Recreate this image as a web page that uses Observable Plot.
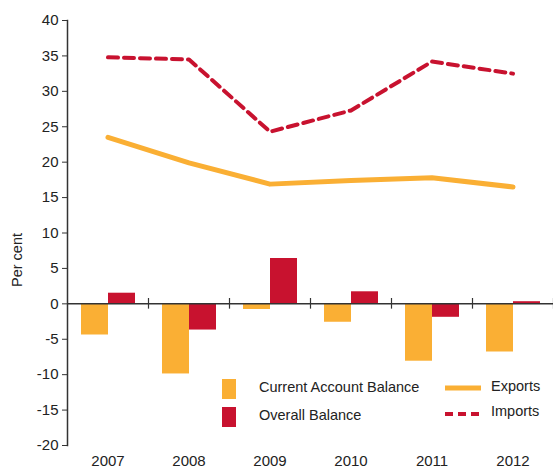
<!DOCTYPE html>
<html>
<head>
<meta charset="utf-8">
<script src="https://cdn.jsdelivr.net/npm/d3@7"></script>
<script src="https://cdn.jsdelivr.net/npm/@observablehq/plot@0.6"></script>
<style>
  html, body { margin: 0; padding: 0; background: #fff; }
  #wrap { position: relative; width: 553px; height: 469px; font-family: "Liberation Sans", Arial, sans-serif; color: #222; }
  #wrap svg { position: absolute; left: 0; top: 0; }
  .lg { position: absolute; font-size: 14.5px; white-space: nowrap; }
  .sw { position: absolute; }
  #ylab { position: absolute; left: 17px; top: 260px; transform: translate(-50%, -50%) rotate(-90deg); font-size: 14.5px; white-space: nowrap; }
</style>
</head>
<body>
<div id="wrap"></div>
<script>
const years = ["2007", "2008", "2009", "2010", "2011", "2012"];
const currentAccount = [-4.4, -9.9, -0.8, -2.6, -8.1, -6.8];
const overallBalance = [1.5, -3.7, 6.4, 1.7, -1.9, 0.3];
const exportsPct = [23.5, 19.9, 16.9, 17.4, 17.8, 16.5];
const importsPct = [34.8, 34.5, 24.3, 27.3, 34.2, 32.5];
const yTicks = [-20, -15, -10, -5, 0, 5, 10, 15, 20, 25, 30, 35, 40];

const orange = "#FAAF34";
const red = "#C8122F";

const rows = years.map((y, i) => ({year: y, ca: currentAccount[i], ob: overallBalance[i], ex: exportsPct[i], im: importsPct[i]}));

const chart = Plot.plot({
  width: 553,
  height: 469,
  marginLeft: 67,
  marginRight: 0,
  marginTop: 20,
  marginBottom: 24,
  style: {fontFamily: "Liberation Sans, Arial, sans-serif", fontSize: "15px", color: "#222", background: "transparent"},
  x: {type: "band", domain: years, padding: 0, label: null},
  y: {domain: [-20, 40], label: null},
  marks: [
    Plot.barY(rows, {x: "year", y: "ca", fill: orange, insetLeft: 14, insetRight: 40}),
    Plot.barY(rows, {x: "year", y: "ob", fill: red, insetLeft: 41, insetRight: 13}),
    Plot.ruleY([0], {stroke: "#333", strokeWidth: 1.5}),
    Plot.ruleX(years, {x: d => d, dx: 40.5, y1: -0.75, y2: 0.75, stroke: "#333", strokeWidth: 1.2}),
    Plot.frame({anchor: "left", stroke: "#333", strokeWidth: 1.5}),
    Plot.lineY(rows, {x: "year", y: "ex", stroke: orange, strokeWidth: 5, strokeLinejoin: "round"}),
    Plot.lineY(rows, {x: "year", y: "im", stroke: red, strokeWidth: 4, strokeDasharray: "10,6"}),
    Plot.axisY({ticks: yTicks, tickFormat: d => String(d), tickSize: 5, tickPadding: 4, stroke: "#333", label: null, fill: "#222"}),
    Plot.axisX({tickSize: 0, tickPadding: 10, label: null, fill: "#222"})
  ]
});

const wrap = document.getElementById("wrap");
wrap.appendChild(chart);

const ylab = document.createElement("div");
ylab.id = "ylab";
ylab.textContent = "Per cent";
wrap.appendChild(ylab);

const legendBars = [["Current Account Balance", orange], ["Overall Balance", red]];
legendBars.forEach(([label, color], i) => {
  const sw = document.createElement("div");
  sw.className = "sw";
  Object.assign(sw.style, {left: "222px", top: (379 + i * 28) + "px", width: "14px", height: "20px", background: color});
  wrap.appendChild(sw);
  const t = document.createElement("div");
  t.className = "lg";
  Object.assign(t.style, {left: "259px", top: (379 + i * 28) + "px"});
  t.textContent = label;
  wrap.appendChild(t);
});

const legendLines = [["Exports", orange, "solid"], ["Imports", red, "dashed"]];
legendLines.forEach(([label, color, kind], i) => {
  const ns = "http://www.w3.org/2000/svg";
  const s = document.createElementNS(ns, "svg");
  s.setAttribute("width", "40");
  s.setAttribute("height", "10");
  s.style.position = "absolute";
  s.style.left = "445px";
  s.style.top = (383 + i * 26) + "px";
  const l = document.createElementNS(ns, "line");
  l.setAttribute("x1", "0"); l.setAttribute("x2", "36");
  l.setAttribute("y1", "5"); l.setAttribute("y2", "5");
  l.setAttribute("stroke", color);
  l.setAttribute("stroke-width", kind === "solid" ? "5" : "4");
  if (kind === "dashed") l.setAttribute("stroke-dasharray", "8,5");
  s.appendChild(l);
  wrap.appendChild(s);
  const t = document.createElement("div");
  t.className = "lg";
  Object.assign(t.style, {left: "491px", top: (378 + i * 25) + "px"});
  t.textContent = label;
  wrap.appendChild(t);
});
</script>
</body>
</html>
